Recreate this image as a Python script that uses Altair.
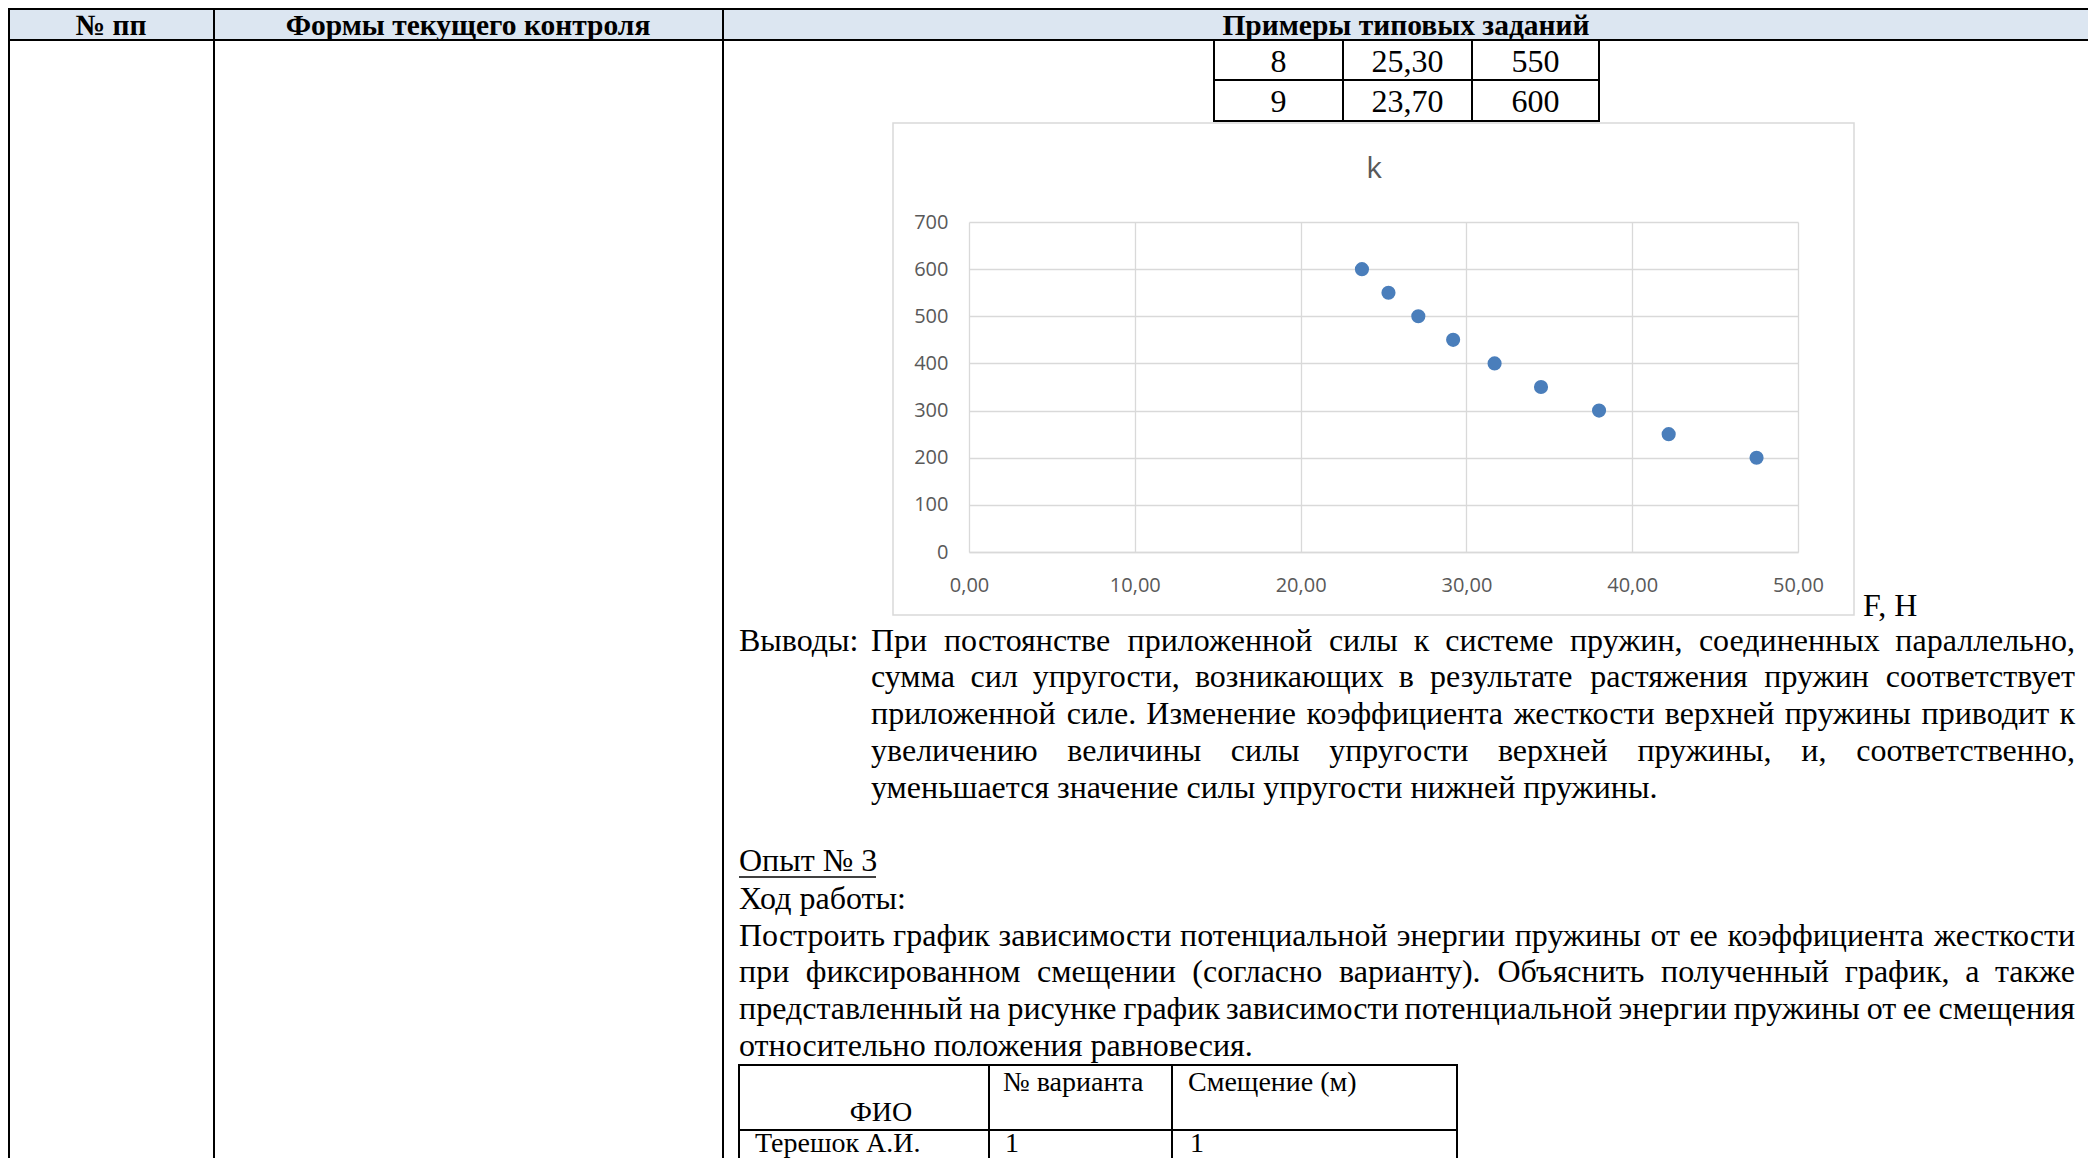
import altair as alt
import pandas as pd

# ---------------- data ----------------
force_F = [47.50, 42.20, 38.00, 34.50, 31.70, 29.20, 27.10, 25.30, 23.70]
stiffness_k = [200, 250, 300, 350, 400, 450, 500, 550, 600]
x_ticks = [0, 10, 20, 30, 40, 50]
y_ticks = [0, 100, 200, 300, 400, 500, 600, 700]
chart_title = "k"
x_unit_label = "F, H"

header_labels = ["№ пп", "Формы текущего контроля", "Примеры типовых заданий"]
table_rows = [["8", "25,30", "550"], ["9", "23,70", "600"]]

conclusion_head = "Выводы:"
conclusion_lines = [
    "При постоянстве приложенной силы к системе пружин, соединенных параллельно,",
    "сумма сил упругости, возникающих в результате растяжения пружин соответствует",
    "приложенной силе. Изменение коэффициента жесткости верхней пружины приводит к",
    "увеличению величины силы упругости верхней пружины, и, соответственно,",
    "уменьшается значение силы упругости нижней пружины.",
]
exp_title = "Опыт № 3"
exp_step = "Ход работы:"
task_lines = [
    "Построить график зависимости потенциальной энергии пружины от ее коэффициента жесткости",
    "при фиксированном смещении (согласно варианту). Объяснить полученный график, а также",
    "представленный на рисунке график зависимости потенциальной энергии пружины от ее смещения",
    "относительно положения равновесия.",
]
variant_header = ["ФИО", "№ варианта", "Смещение (м)"]
variant_row = ["Терешок А.И.", "1", "1"]

# ---------------- layout (page pixels) ----------------
OX, OY = 969, 222          # plot-area origin on the page
PW, PH = 829, 330          # plot-area size
SVG_W, SVG_H = 2080, 1150
PAD = {"left": OX - 8, "top": OY - 8, "right": SVG_W - (OX - 8) - PW,
       "bottom": SVG_H - (OY - 8) - PH}
BOT = 8 + SVG_H

def px(x):
    return x - OX

def py(y):
    return y - OY

# approximate advance widths (em) of a Times-like serif
W = {" ": 0.25, ",": 0.25, ".": 0.25, ":": 0.278, "(": 0.333, ")": 0.333, "№": 0.954,
     "а": .444, "б": .507, "в": .472, "г": .41, "д": .5, "е": .444, "ж": .691, "з": .395,
     "и": .535, "й": .535, "к": .486, "л": .499, "м": .633, "н": .535, "о": .5, "п": .535,
     "р": .5, "с": .444, "т": .437, "у": .5, "ф": .648, "х": .5, "ц": .535, "ч": .503,
     "ш": .77, "щ": .77, "ъ": .517, "ы": .672, "ь": .456, "э": .429, "ю": .747, "я": .493,
     "В": .667, "П": .722, "С": .667, "И": .722, "О": .722, "Х": .722, "Н": .722,
     "Ф": .79, "Т": .611, "А": .722}

def tw(s, fs):
    return sum(W.get(c, 0.5) for c in s) * fs

left_rows, center_rows, right_rows = [], [], []

def justify(line, x0, x1, yb, fs):
    words = line.split(" ")
    widths = [tw(w, fs) for w in words]
    gap = (x1 - x0 - sum(widths)) / (len(words) - 1)
    x = x0
    for i, (w, wd) in enumerate(zip(words, widths)):
        if i == 0:
            left_rows.append(dict(x=px(x0), y=py(yb), t=w, fs=fs))
        elif i == len(words) - 1:
            right_rows.append(dict(x=px(x1), y=py(yb), t=w, fs=fs))
        else:
            center_rows.append(dict(x=px(x + wd / 2), y=py(yb), t=w, fs=fs))
        x += wd + gap

BODY = 32
BL = 9  # baseline offset from visual line centre
L0, L1, R = 739, 871, 2075

# conclusions
left_rows.append(dict(x=px(L0), y=py(642 + BL), t=conclusion_head, fs=BODY))
conc_y = [642, 678, 715, 752, 789]
for i, (ln, yc) in enumerate(zip(conclusion_lines, conc_y)):
    if i < len(conclusion_lines) - 1:
        justify(ln, L1, R, yc + BL, BODY)
    else:
        left_rows.append(dict(x=px(L1), y=py(yc + BL), t=ln, fs=BODY))

left_rows.append(dict(x=px(L0), y=py(862 + BL), t=exp_title, fs=BODY))
left_rows.append(dict(x=px(L0), y=py(900 + BL), t=exp_step, fs=BODY))
task_y = [937, 973, 1010, 1047]
for i, (ln, yc) in enumerate(zip(task_lines, task_y)):
    if i < len(task_lines) - 1:
        justify(ln, L0, R, yc + BL, BODY)
    else:
        left_rows.append(dict(x=px(L0), y=py(yc + BL), t=ln, fs=BODY))

# small data table
small_cols = [1214, 1343, 1472, 1599]
small_base = [72, 112]
for r, yb in zip(table_rows, small_base):
    for j, val in enumerate(r):
        center_rows.append(dict(x=px((small_cols[j] + small_cols[j + 1]) / 2),
                                y=py(yb), t=val, fs=BODY))

# variant table
TS = 28
center_rows.append(dict(x=px(881), y=py(1121), t=variant_header[0], fs=TS))
left_rows.append(dict(x=px(1003), y=py(1091), t=variant_header[1], fs=TS))
left_rows.append(dict(x=px(1188), y=py(1091), t=variant_header[2], fs=TS))
left_rows.append(dict(x=px(755), y=py(1151.5), t=variant_row[0], fs=TS))
left_rows.append(dict(x=px(1005), y=py(1151.5), t=variant_row[1], fs=TS))
left_rows.append(dict(x=px(1190), y=py(1151.5), t=variant_row[2], fs=TS))

# lines
lines = []
def hl(x0, x1, y, w=2):
    lines.append(dict(x=px(x0), x2=px(x1), y=py(y), y2=py(y), w=w))
def vl(x, y0, y1, w=2):
    lines.append(dict(x=px(x), x2=px(x), y=py(y0), y2=py(y1), w=w))

hl(8, 2090, 9)
hl(8, 2090, 40)
for xv in [9, 214, 723, 2089]:
    vl(xv, 8, BOT)
hl(1213, 1600, 80)
hl(1213, 1600, 121)
for xv in small_cols:
    vl(xv, 40, 121)
hl(738, 1458, 1065)
hl(738, 1458, 1130)
for xv in [739, 989, 1172, 1457]:
    vl(xv, 1065, BOT)
hl(739, 876, 877, 1.5)   # underline of experiment title

# ---------------- chart ----------------
header_fill = alt.Chart(pd.DataFrame([dict(x=px(9), x2=px(2089), y=py(9), y2=py(40))])).mark_rect(
    color="#dce6f1").encode(
    x=alt.X("x:Q", scale=None, axis=None), x2="x2:Q",
    y=alt.Y("y:Q", scale=None, axis=None), y2="y2:Q")

chart_box = alt.Chart(pd.DataFrame([dict(x=px(893), x2=px(1854), y=py(123), y2=py(615))])).mark_rect(
    fillOpacity=0, stroke="#d9d9d9", strokeWidth=1.5).encode(
    x=alt.X("x:Q", scale=None, axis=None), x2="x2:Q",
    y=alt.Y("y:Q", scale=None, axis=None), y2="y2:Q")

rules = alt.Chart(pd.DataFrame(lines)).mark_rule(color="black").encode(
    x=alt.X("x:Q", scale=None, axis=None), x2="x2:Q",
    y=alt.Y("y:Q", scale=None, axis=None), y2="y2:Q",
    size=alt.Size("w:Q", scale=None, legend=None))

HF = 29.5
header_df = pd.DataFrame([
    dict(x=px(111), y=py(34.5), t=header_labels[0], fs=HF),
    dict(x=px(468), y=py(34.5), t=header_labels[1], fs=HF),
    dict(x=px(1406), y=py(34.5), t=header_labels[2], fs=HF),
])

def text_layer(df, align, font="Liberation Serif", weight="normal", color="black"):
    return alt.Chart(pd.DataFrame(df)).mark_text(
        align=align, baseline="alphabetic", font=font, fontWeight=weight, color=color).encode(
        x=alt.X("x:Q", scale=None, axis=None),
        y=alt.Y("y:Q", scale=None, axis=None),
        text="t:N",
        size=alt.Size("fs:Q", scale=None, legend=None))

header_text = text_layer(header_df, "center", weight="bold")
body_left = text_layer(left_rows, "left")
body_center = text_layer(center_rows, "center")
body_right = text_layer(right_rows, "right")

title_k = text_layer([dict(x=px(1374), y=py(178), t=chart_title, fs=30)], "center",
                     font="Open Sans", color="#595959")
unit_lbl = text_layer([dict(x=px(1863), y=py(616), t=x_unit_label, fs=BODY)], "left")

scatter_df = pd.DataFrame({"F": force_F, "k": stiffness_k})
scatter = alt.Chart(scatter_df).mark_circle(size=200, color="#4a7ebb", opacity=1).encode(
    x=alt.X("F:Q", scale=alt.Scale(domain=[0, 50], nice=False),
            axis=alt.Axis(values=x_ticks, title=None, grid=True, gridColor="#d9d9d9",
                          gridWidth=1.3, domain=True, domainColor="#d9d9d9", domainWidth=1.3,
                          ticks=False, labelFont="Open Sans", labelFontSize=20,
                          labelColor="#595959", labelPadding=23, labelFlush=False,
                          labelExpr="replace(format(datum.value, '.2f'), '.', ',')")),
    y=alt.Y("k:Q", scale=alt.Scale(domain=[0, 700], nice=False),
            axis=alt.Axis(values=y_ticks, title=None, grid=True, gridColor="#d9d9d9",
                          gridWidth=1.3, domain=False, ticks=False, labelFont="Open Sans",
                          labelFontSize=20, labelColor="#595959", labelPadding=21,
                          labelFlush=False)),
)

chart = alt.layer(
    header_fill, chart_box, scatter, rules, header_text, body_left, body_center, body_right,
    title_k, unit_lbl,
).resolve_scale(x="independent", y="independent", size="independent").properties(
    width=PW, height=PH, padding=PAD, autosize=alt.AutoSizeParams(type="none"),
    background="white",
).configure_view(strokeWidth=0)

chart.save("out.html", embed_options={"renderer": "svg", "actions": False})
